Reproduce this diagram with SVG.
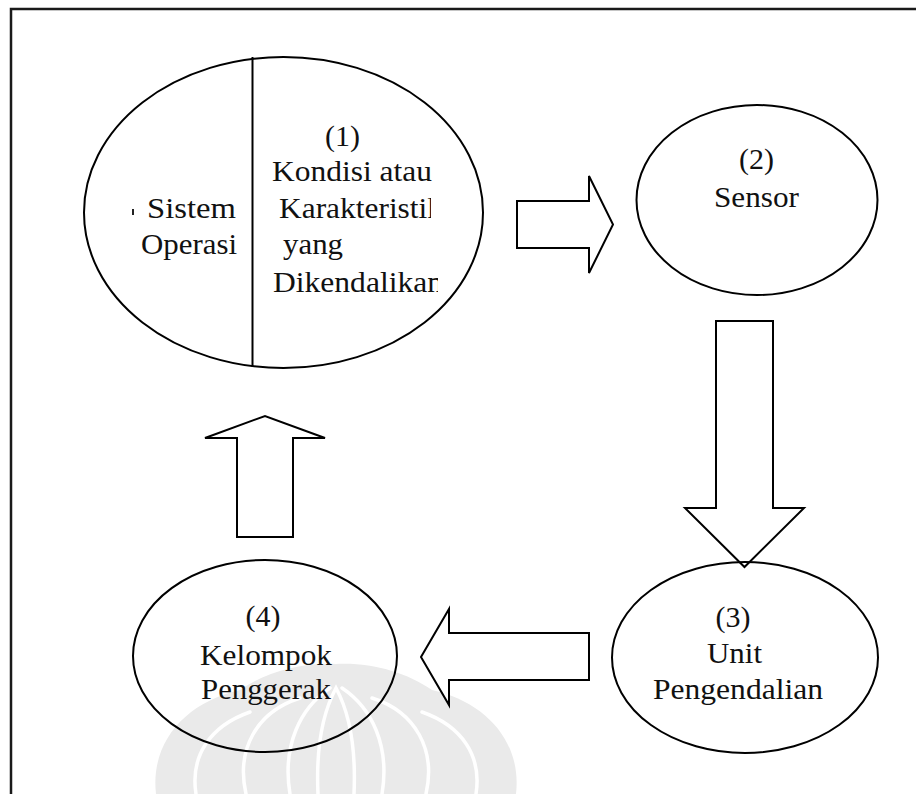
<svg xmlns="http://www.w3.org/2000/svg" width="916" height="794" viewBox="0 0 916 794">
  <style>
    .frame { fill: none; stroke: #1a1a1a; stroke-width: 2.5; }
    .node { fill: none; stroke: #000; stroke-width: 2; }
    .arrow { fill: #fff; stroke: #000; stroke-width: 2; stroke-linejoin: miter; }
    .label { font-size: 29px; fill: #111; }
    .wm { fill: #eaeaea; }
    .wm-line { fill: none; stroke: #fff; stroke-width: 3.5; stroke-linecap: round; }
  </style>
  <defs>
    <clipPath id="clipKarakter"><rect x="260" y="190" width="171" height="40"/></clipPath>
    <clipPath id="clipDikend"><rect x="260" y="265" width="178" height="40"/></clipPath>
  </defs>

  <rect width="916" height="794" fill="#fff"/>

  <!-- faint emblem behind the lower part -->
  <g id="emblem">
    <path class="wm" d="M156,794 C150,742 186,702 240,690 C266,672 302,662 336,664 C370,662 406,672 432,690 C486,702 522,742 516,794 Z"/>
    <path class="wm-line" d="M318,794 C316,750 322,714 336,688 C350,714 356,750 354,794"/>
    <path class="wm-line" d="M290,794 C282,746 300,708 330,688"/>
    <path class="wm-line" d="M382,794 C390,746 372,708 342,688"/>
    <path class="wm-line" d="M246,794 C236,750 256,712 300,698"/>
    <path class="wm-line" d="M426,794 C436,750 416,712 372,698"/>
    <path class="wm-line" d="M196,794 C190,756 210,726 250,712"/>
    <path class="wm-line" d="M476,794 C482,756 462,726 422,712"/>
  </g>

  <!-- page frame (top and left edges) -->
  <path class="frame" d="M11,794 V9 H916"/>

  <g id="connectors">
    <path class="arrow" d="M517,201 H589 V176 L613,224.5 L589,273 V248 H517 Z"/>
    <path class="arrow" d="M716,321 H773 V508 H804 L744.5,567 L685,508 H716 Z"/>
    <path class="arrow" d="M589,633 V680 H449 V705 L421,657 L449,609 V633 Z"/>
    <path class="arrow" d="M237,537 V438 H205 L265,416 L325,438 H293 V537 Z"/>
  </g>

  <g font-family="Liberation Serif, Times New Roman, serif">
  <g id="node1">
    <ellipse class="node" cx="283.5" cy="212.5" rx="199.5" ry="155.5"/>
    <line class="node" x1="252.5" y1="57" x2="252.5" y2="367"/>
    <rect x="132" y="209" width="2" height="6" fill="#222"/>
    <text class="label" x="147" y="218" textLength="89" lengthAdjust="spacingAndGlyphs">Sistem</text>
    <text class="label" x="141" y="254" textLength="96" lengthAdjust="spacingAndGlyphs">Operasi</text>
    <text class="label" x="325" y="146" textLength="35" lengthAdjust="spacingAndGlyphs">(1)</text>
    <text class="label" x="272" y="181" textLength="160" lengthAdjust="spacingAndGlyphs">Kondisi atau</text>
    <g clip-path="url(#clipKarakter)">
      <text class="label" x="279" y="218" textLength="164" lengthAdjust="spacingAndGlyphs">Karakteristik</text>
    </g>
    <text class="label" x="283" y="254" textLength="60" lengthAdjust="spacingAndGlyphs">yang</text>
    <g clip-path="url(#clipDikend)">
      <text class="label" x="273" y="292" textLength="170" lengthAdjust="spacingAndGlyphs">Dikendalikan</text>
    </g>
  </g>

  <g id="node2">
    <ellipse class="node" cx="757" cy="200" rx="120.5" ry="95"/>
    <text class="label" x="739" y="169" textLength="35" lengthAdjust="spacingAndGlyphs">(2)</text>
    <text class="label" x="714" y="207" textLength="85" lengthAdjust="spacingAndGlyphs">Sensor</text>
  </g>

  <g id="node3">
    <ellipse class="node" cx="745" cy="657.5" rx="133" ry="95.5"/>
    <text class="label" x="715.5" y="627" textLength="35" lengthAdjust="spacingAndGlyphs">(3)</text>
    <text class="label" x="707" y="663" textLength="55" lengthAdjust="spacingAndGlyphs">Unit</text>
    <text class="label" x="653" y="699" textLength="170" lengthAdjust="spacingAndGlyphs">Pengendalian</text>
  </g>

  <g id="node4">
    <ellipse class="node" cx="265" cy="656" rx="132" ry="96"/>
    <text class="label" x="245.5" y="626" textLength="35" lengthAdjust="spacingAndGlyphs">(4)</text>
    <text class="label" x="200" y="665" textLength="132" lengthAdjust="spacingAndGlyphs">Kelompok</text>
    <text class="label" x="201" y="699" textLength="130" lengthAdjust="spacingAndGlyphs">Penggerak</text>
  </g>
  </g>
</svg>
